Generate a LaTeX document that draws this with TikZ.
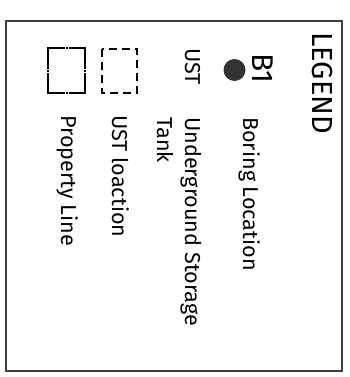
\documentclass[tikz,border=0pt]{standalone}
\usepackage{fontspec}
\setmainfont{Fira Sans}
\usetikzlibrary{positioning}

\begin{document}
\begin{tikzpicture}[x=1pt,y=-1pt,
    lbl/.style={rotate=-90,anchor=base west,inner sep=0pt,font=\fontsize{21.6}{24}\selectfont},
    tankbox/.style={line width=1.5pt,dash pattern=on 8pt off 5pt},
    propbox/.style={line width=2.4pt},
    gap/.style={white,line width=0.6pt}]
\useasboundingbox (0,0) rectangle (349,377);
\draw[line width=1.2pt,black!75] (6,21) rectangle (342,371);

\node[lbl,font=\fontsize{29}{30}\selectfont] (title) at (312.5,32) {LEGEND};

% boring
\node[lbl,font=\fontsize{30}{30}\selectfont] (bname) at (252,53) {B1};
\fill[black!80] (234.5,70) circle (11);
\node[lbl] (bdesc) at (243,117) {Boring Location};

% tank
\node[lbl] (ust) at (185,48) {UST};
\node[lbl] (ustdesc) at (185,117) {Underground Storage};
\node[lbl] (ustdesc2) at (157,117) {Tank};
\draw[tankbox] (102,49) rectangle (137,93);
\node[lbl] (ustloc) at (112,115) {UST loaction};

% property
\draw[propbox] (48,48) rectangle (85,93);
\foreach \p in {65.5,68} {
  \draw[gap] (\p,45) -- (\p,51);
  \draw[gap] (\p,90) -- (\p,96);
}
\foreach \p in {69.5,72} {
  \draw[gap] (45,\p) -- (51,\p);
  \draw[gap] (82,\p) -- (88,\p);
}
\node[lbl] (prop) at (61,115) {Property Line};
\end{tikzpicture}
\end{document}
